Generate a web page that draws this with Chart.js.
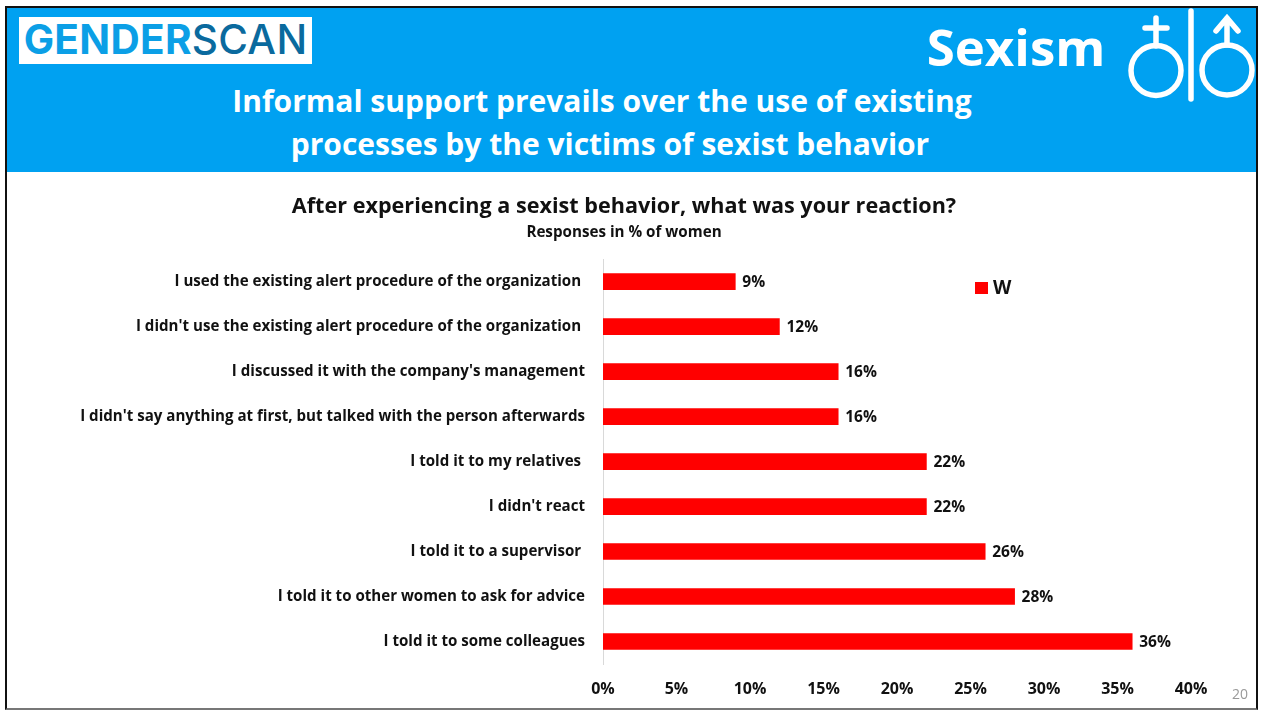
<!DOCTYPE html>
<html>
<head>
<meta charset="utf-8">
<title>Sexism</title>
<script src="https://cdn.jsdelivr.net/npm/chart.js@4"></script>
<style>
    html, body { margin: 0; padding: 0; background: #fff; overflow: hidden; }
    body { width: 1263px; height: 710px; position: relative; font-family: "Open Sans", sans-serif; font-weight: 700; }
    #frame { position: absolute; left: 5px; top: 6px; width: 1249px; height: 700px; border: 2px solid #111; border-bottom-color: #777; }
    #banner { position: absolute; left: 7px; top: 8px; width: 1249px; height: 164px; background: #00a1f1; }
    #logo { position: absolute; left: 19px; top: 17px; width: 293px; height: 47px; background: #fff; color: #0b9fe6;
            font: 700 40.5px/45px Inter, sans-serif; text-align: center; letter-spacing: 0.3px; white-space: nowrap; }
    #logo span { color: #0a6a9e; font-weight: 500; }
    .head { position: absolute; color: #fff; white-space: nowrap; transform: translateX(-50%); }
    #line1 { left: 602px; top: 80px; font-size: 30px; line-height: 42px; }
    #line2 { left: 610px; top: 123px; font-size: 30px; line-height: 42px; }
    #topic { left: 1016px; top: 10px; font-size: 51px; line-height: 72px; }
    #symbols { position: absolute; left: 1125px; top: 6px; }
    #chart { position: absolute; left: 0; top: 0; }
    #legend { position: absolute; left: 975px; top: 276px; font-size: 19px; line-height: 22px; color: #111; }
    #legend i { display: inline-block; width: 13px; height: 12px; margin-right: 5px; vertical-align: 0; }
    #page { position: absolute; left: 1232px; top: 684px; font: 400 14px "Open Sans", sans-serif; color: #999; }
</style>
</head>
<body>
<div id="frame"></div>
<div id="banner"></div>
<div id="logo">GENDER<span>SCAN</span></div>
<div class="head" id="topic">Sexism</div>
<div class="head" id="line1">Informal support prevails over the use of existing</div>
<div class="head" id="line2">processes by the victims of sexist behavior</div>
<svg id="symbols" width="134" height="102" fill="none" stroke="#fff" stroke-width="5.5" stroke-linecap="round">
    <circle cx="31" cy="64.5" r="25"/>
    <path d="M31 40V12M20 22H42"/>
    <path d="M66 5V93"/>
    <circle cx="102" cy="64" r="25"/>
    <path d="M102 39V12M91 25L102 12L113 25"/>
</svg>
<canvas id="chart" width="1248" height="710"></canvas>
<div id="legend"></div>
<div id="page">20</div>

<script>
const categories = [
    "I used the existing alert procedure of the organization ",
    "I didn't use the existing alert procedure of the organization ",
    "I discussed it with the company's management",
    "I didn't say anything at first, but talked with the person afterwards",
    "I told it to my relatives ",
    "I didn't react",
    "I told it to a supervisor ",
    "I told it to other women to ask for advice",
    "I told it to some colleagues"
];
const womenValues = [9, 12, 16, 16, 22, 22, 26, 28, 36];
const seriesName = "W";
const tickValues = [0, 5, 10, 15, 20, 25, 30, 35, 40];

const fontFamily = "'Open Sans', sans-serif";
const red = "#ff0000";

// percentage next to the end of each bar
const barValueLabels = {
    id: "barValueLabels",
    afterDatasetsDraw(chart) {
        const ctx = chart.ctx;
        const bars = chart.getDatasetMeta(0).data;
        ctx.save();
        ctx.font = "700 15.5px " + fontFamily;
        ctx.fillStyle = "#111";
        ctx.textAlign = "left";
        ctx.textBaseline = "middle";
        bars.forEach(function (bar, i) {
            ctx.fillText(womenValues[i] + "%", bar.x + 7, bar.y + 1);
        });
        ctx.restore();
    }
};

const chart = new Chart(document.getElementById("chart").getContext("2d"), {
    type: "bar",
    data: {
        labels: categories,
        datasets: [{
            label: seriesName,
            data: womenValues,
            backgroundColor: red,
            barThickness: 16
        }]
    },
    options: {
        indexAxis: "y",
        responsive: false,
        animation: false,
        // equal side padding keeps the titles centred on 624
        layout: { padding: { top: 184, right: 57, bottom: 0, left: 57 } },
        plugins: {
            legend: { display: false },
            tooltip: { enabled: false },
            title: {
                display: true,
                text: "After experiencing a sexist behavior, what was your reaction?",
                color: "#111",
                font: { family: fontFamily, size: 21.6, weight: "700" },
                padding: { top: 10, bottom: 2 }
            },
            subtitle: {
                display: true,
                text: "Responses in % of women",
                color: "#111",
                font: { family: fontFamily, size: 15.2, weight: "700" },
                padding: { top: 2, bottom: 17 }
            }
        },
        scales: {
            x: {
                min: 0,
                max: 40,
                grid: { display: false },
                border: { display: false },
                afterBuildTicks(axis) {
                    axis.ticks = tickValues.map(function (v) { return { value: v }; });
                },
                afterFit(axis) { axis.height = 46; },
                ticks: {
                    color: "#111",
                    padding: 8,
                    maxRotation: 0,
                    font: { family: fontFamily, size: 16, weight: "700" },
                    callback: function (v) { return v + "%"; }
                }
            },
            y: {
                grid: { display: false },
                border: { display: true, color: "#d9d9d9", width: 1 },
                afterFit(axis) { axis.width = 546; },
                ticks: {
                    color: "#111",
                    padding: 10,
                    autoSkip: false,
                    font: { family: fontFamily, size: 15.1, weight: "700" }
                }
            }
        }
    },
    plugins: [barValueLabels]
});

// legend is built from the dataset so the swatch follows the series colour
const legendBox = document.getElementById("legend");
chart.data.datasets.forEach(function (ds) {
    const swatch = document.createElement("i");
    swatch.style.background = ds.backgroundColor;
    legendBox.appendChild(swatch);
    legendBox.appendChild(document.createTextNode(ds.label));
});
</script>
</body>
</html>
